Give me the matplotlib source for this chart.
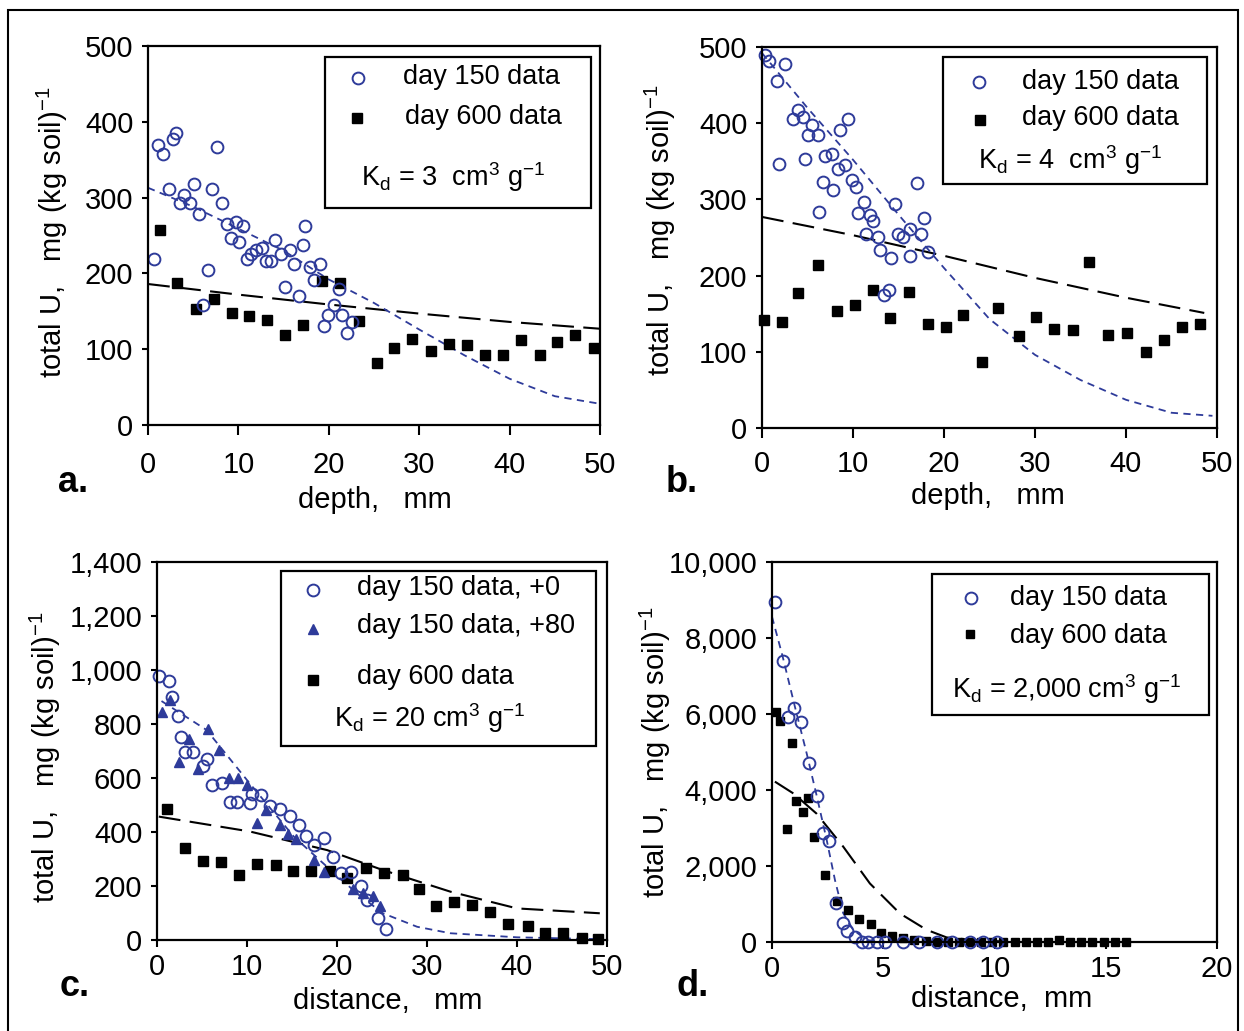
import matplotlib.pyplot as plt
from matplotlib.patches import Rectangle
from matplotlib.ticker import FuncFormatter, MultipleLocator

plt.rcParams['font.family'] = ['Liberation Sans', 'DejaVu Sans']
plt.rcParams['mathtext.fontset'] = 'custom'
plt.rcParams['mathtext.rm'] = 'Liberation Sans'
plt.rcParams['mathtext.it'] = 'Liberation Sans:italic'

W, H = 1244, 1031
BLUE = '#2e3b9a'

# ---- panel a: Kd = 3 ----
a_x150 = [0.7, 1.1, 1.7, 2.8, 3.1, 2.3, 4.0, 3.5, 4.6, 5.1, 5.6, 6.6, 6.1, 7.1, 7.6,
          8.2, 8.7, 9.7, 10.5, 9.2, 10.1, 10.9, 11.4, 11.9, 12.6, 13.0, 13.6, 14.1,
          14.7, 15.7, 16.2, 15.1, 16.7, 17.2, 17.4, 17.9, 19.0, 18.4, 19.5, 19.9,
          20.6, 21.1, 21.5, 22.6, 22.0]
a_y150 = [219, 370, 357, 377, 385, 311, 303, 293, 293, 318, 278, 204, 158, 311, 367,
          293, 265, 268, 262, 247, 242, 219, 225, 231, 234, 216, 216, 244,
          225, 231, 213, 182, 170, 238, 262, 209, 213, 191, 130, 145,
          158, 179, 145, 136, 121]
a_x600 = [1.3, 3.2, 5.3, 7.3, 9.3, 11.2, 13.2, 15.2, 17.2, 19.2, 21.2, 23.3, 25.3,
          27.2, 29.2, 31.3, 33.3, 35.3, 37.3, 39.3, 41.3, 43.4, 45.2, 47.2, 49.3]
a_y600 = [257, 187, 153, 166, 148, 144, 138, 119, 132, 190, 187, 137, 82,
          101, 113, 97, 107, 106, 92, 92, 112, 92, 110, 119, 101]
a_fit150_x = [0, 5, 10, 15, 20, 25, 30, 35, 40, 45, 50]
a_fit150_y = [313, 288, 259, 230, 192, 161, 126, 92, 61, 38, 28]
a_fit600_x = [0, 10, 20, 30, 40, 50]
a_fit600_y = [186, 172, 159, 147, 136, 127]

# ---- panel b: Kd = 4 ----
b_x150 = [0.3, 0.8, 2.5, 1.7, 1.9, 4.0, 3.4, 4.5, 5.5, 5.1, 6.1, 4.7, 8.6, 9.5,
          6.9, 7.7, 9.1, 8.3, 6.3, 6.7, 7.8, 9.9, 10.3, 11.2, 10.6, 11.9, 12.2,
          11.4, 12.7, 13.0, 14.2, 14.6, 14.9, 15.5, 16.3, 17.0, 17.5, 17.8, 16.3,
          18.2, 13.4, 14.0]
b_y150 = [490, 482, 478, 456, 346, 417, 406, 408, 398, 385, 384, 353, 391, 405,
          357, 360, 345, 340, 284, 323, 312, 325, 316, 297, 282, 280, 272,
          255, 251, 233, 223, 294, 255, 251, 261, 321, 254, 275, 226,
          231, 175, 181]
b_x600 = [0.2, 2.2, 4.0, 6.1, 8.2, 10.2, 12.2, 14.1, 16.2, 18.2, 20.2, 22.1, 24.2,
          25.9, 28.2, 30.1, 32.1, 34.2, 35.9, 38.0, 40.1, 42.2, 44.2, 46.2, 48.1]
b_y600 = [142, 139, 177, 214, 153, 161, 181, 144, 179, 137, 132, 148, 87,
          157, 121, 146, 130, 129, 218, 122, 125, 100, 115, 133, 137]
b_fit150_x = [0, 5, 10, 15, 20, 25, 30, 35, 40, 45, 49.5]
b_fit150_y = [492, 420, 352, 280, 210, 143, 96, 63, 37, 20, 16]
b_fit600_x = [0, 10, 20, 30, 40, 48.6]
b_fit600_y = [277, 253, 226, 197, 171, 151]

# ---- panel c: Kd = 20 ----
c_x150 = [0.2, 1.3, 1.7, 2.3, 2.7, 3.1, 4.0, 5.1, 5.6, 6.1, 7.2, 8.1, 8.9, 10.3,
          10.6, 11.6, 12.6, 13.7, 14.8, 15.8, 16.6, 17.4, 18.6, 19.6, 20.5,
          21.6, 22.7, 23.3, 24.6, 25.5]
c_y150 = [978, 961, 901, 831, 753, 696, 696, 643, 670, 574, 580, 512, 512, 506,
          540, 537, 496, 487, 461, 426, 386, 352, 377, 306, 247,
          253, 200, 148, 83, 40]
c_x80 = [0.6, 1.4, 2.5, 3.6, 4.6, 5.7, 6.9, 8.0, 9.0, 10.0, 11.1, 12.1, 13.7,
         14.6, 15.5, 17.5, 18.6, 21.8, 22.9, 24.0, 24.8]
c_y80 = [846, 889, 661, 744, 632, 780, 704, 599, 601, 574, 435, 481, 426,
         393, 373, 296, 253, 188, 173, 163, 126]
c_x600 = [1.1, 3.1, 5.1, 7.1, 9.1, 11.1, 13.2, 15.1, 17.1, 19.2, 21.1, 23.2, 25.2,
          27.3, 29.1, 31.0, 33.0, 35.0, 37.0, 39.0, 41.2, 43.1, 45.1, 47.2, 49.0]
c_y600 = [484, 342, 294, 290, 241, 283, 276, 256, 256, 257, 228, 265, 249,
          241, 188, 127, 139, 130, 105, 58, 53, 25, 25, 9, 3]
c_fit150_x = [0.5, 5.5, 10.3, 15.2, 18.9, 22.2, 25.1, 28.9, 32.6, 40, 49.2]
c_fit150_y = [885, 778, 580, 383, 271, 173, 99, 49, 25, 10, 3]
c_fit600_x = [0.2, 10.3, 18.9, 25.1, 32.6, 40, 49.2]
c_fit600_y = [457, 402, 333, 259, 179, 117, 99]

# ---- panel d: Kd = 2,000 ----
d_x150 = [0.13, 0.48, 0.73, 1.0, 1.3, 1.66, 2.0, 2.28, 2.58, 2.88, 3.18, 3.39,
          3.73, 4.03, 4.3, 4.7, 5.1, 5.9, 6.6, 7.4, 8.1, 8.9, 9.5, 10.1]
d_y150 = [8940, 7400, 5930, 6170, 5800, 4700, 3850, 2860, 2660, 1020, 490, 300,
          120, 0, 0, 0, 0, 0, 0, 0, 0, 0, 0, 0]
d_x600 = [0.17, 0.36, 0.88, 1.08, 1.38, 0.66, 1.63, 1.9, 2.37, 2.9, 3.4, 3.93,
          4.43, 4.88, 5.4, 5.9, 6.4, 6.9, 7.4, 7.9, 8.4, 8.9, 9.4, 9.9, 10.4,
          10.9, 11.4, 11.9, 12.4, 12.9, 13.4, 13.9, 14.4, 14.9, 15.4, 15.9]
d_y600 = [6040, 5820, 5250, 3720, 3410, 2970, 3780, 2760, 1760, 1090, 850, 610,
          470, 250, 170, 100, 50, 20, 10, 10, 10, 0, 0, 0, 0,
          0, 0, 0, 0, 50, 0, 0, 0, 0, 0, 0]
d_fit150_x = [0, 0.48, 1.03, 1.56, 2.0, 2.46, 2.83, 3.2, 3.65, 4.26, 5.15, 5.6]
d_fit150_y = [8560, 7510, 6190, 4960, 3870, 2680, 1630, 760, 320, 50, 0, 0]
d_fit600_x = [0.13, 0.96, 2.0, 3.2, 4.4, 5.75, 6.95, 7.85, 9.05, 10.5]
d_fit600_y = [4220, 3910, 3380, 2510, 1540, 750, 320, 120, 50, 10]

circle = dict(ls='none', marker='o', mfc='none', mec=BLUE, mew=1.4, ms=8.5)
square = dict(ls='none', marker='s', color='black', ms=7)
small_square = dict(square, ms=5.5)
triangle = dict(ls='none', marker='^', color=BLUE, ms=6.5)
fit150 = dict(color=BLUE, lw=1.3, ls=(0, (4, 3)))
fit600 = dict(color='black', lw=1.5, ls=(0, (10.5, 4.5)))

fig = plt.figure(figsize=(W / 100, H / 100), dpi=100)


def fx(x):
    return x / W


def fy(y):
    return 1 - y / H


def make_axes(box, xlim, ylim, xstep, ystep, xlen, xpad, comma=False):
    l, t, r, b = box
    ax = fig.add_axes([fx(l), fy(b), (r - l) / W, (b - t) / H])
    ax.set_xlim(*xlim)
    ax.set_ylim(*ylim)
    ax.xaxis.set_major_locator(MultipleLocator(xstep))
    ax.yaxis.set_major_locator(MultipleLocator(ystep))
    if comma:
        ax.yaxis.set_major_formatter(FuncFormatter(lambda v, p: f'{v:,.0f}'))
    for s in ax.spines.values():
        s.set_linewidth(1.6)
    ax.tick_params(axis='x', direction='out', length=xlen, width=1.5, pad=xpad, labelsize=21)
    ax.tick_params(axis='y', direction='out', length=4.5, width=1.5, pad=6, labelsize=21)
    return ax


def legend(ax, box, rect, rows, kd, kd_xy):
    l, t, r, b = box

    def tr(x, y):
        return (x - l) / (r - l), (b - y) / (b - t)

    x0, y0 = tr(rect[0], rect[3])
    x1, y1 = tr(rect[2], rect[1])
    ax.add_patch(Rectangle((x0, y0), x1 - x0, y1 - y0, fill=False, lw=1.6,
                           ec='black', transform=ax.transAxes, zorder=5))
    for style, mxy, label, txy in rows:
        ax.plot(*[[v] for v in tr(*mxy)], transform=ax.transAxes, clip_on=False,
                zorder=6, **style)
        ax.text(*tr(*txy), label, transform=ax.transAxes, fontsize=19.5,
                va='center', ha='left', zorder=6)
    ax.text(*tr(*kd_xy), kd, transform=ax.transAxes, fontsize=19.5,
            va='center', ha='left', zorder=6)


ylab = 'total U,   mg (kg soil)$^{-1}$'

# panel a
box_a = (148, 46, 600, 425)
ax = make_axes(box_a, (0, 50), (0, 500), 10, 100, 7, 12)
ax.plot(a_fit600_x, a_fit600_y, **fit600)
ax.plot(a_fit150_x, a_fit150_y, **fit150)
ax.plot(a_x600, a_y600, clip_on=False, **square)
ax.plot(a_x150, a_y150, clip_on=False, **circle)
legend(ax, box_a, (325, 57, 591, 208),
       [(circle, (358, 78), 'day 150 data', (403, 77)),
        (square, (357, 118), 'day 600 data', (405, 117))],
       'K$_\\mathrm{d}$ = 3  cm$^3$ g$^{-1}$', (361, 177))
fig.text(fx(52), fy(232), ylab, rotation=90, fontsize=21, ha='center', va='center')
fig.text(fx(375), fy(500), 'depth,   mm', fontsize=21, ha='center', va='center')
fig.text(fx(58), fy(483), 'a.', fontsize=26, fontweight='bold', ha='left', va='center')

# panel b
box_b = (762, 47, 1217, 428)
ax = make_axes(box_b, (0, 50), (0, 500), 10, 100, 7, 9)
ax.plot(b_fit600_x, b_fit600_y, **fit600)
ax.plot(b_fit150_x, b_fit150_y, **fit150)
ax.plot(b_x600, b_y600, clip_on=False, **square)
ax.plot(b_x150, b_y150, clip_on=False, **circle)
legend(ax, box_b, (943, 57, 1207, 184),
       [(circle, (979, 82), 'day 150 data', (1022, 82)),
        (square, (980, 120), 'day 600 data', (1022, 118))],
       'K$_\\mathrm{d}$ = 4  cm$^3$ g$^{-1}$', (978, 160))
fig.text(fx(660), fy(230), ylab, rotation=90, fontsize=21, ha='center', va='center')
fig.text(fx(988), fy(496), 'depth,   mm', fontsize=21, ha='center', va='center')
fig.text(fx(666), fy(483), 'b.', fontsize=26, fontweight='bold', ha='left', va='center')

# panel c
box_c = (157, 562, 607, 940)
ax = make_axes(box_c, (0, 50), (0, 1400), 10, 200, 5, 4.5, comma=True)
ax.plot(c_fit600_x, c_fit600_y, **fit600)
ax.plot(c_fit150_x, c_fit150_y, **fit150)
ax.plot(c_x600, c_y600, clip_on=False, **square)
ax.plot(c_x80, c_y80, clip_on=False, **triangle)
ax.plot(c_x150, c_y150, clip_on=False, **circle)
legend(ax, box_c, (281, 571, 596, 746),
       [(circle, (313, 590), 'day 150 data, +0', (357, 588)),
        (triangle, (313, 629), 'day 150 data, +80', (357, 626)),
        (square, (313, 680), 'day 600 data', (357, 677))],
       'K$_\\mathrm{d}$ = 20 cm$^3$ g$^{-1}$', (334, 718))
fig.text(fx(45), fy(757), ylab, rotation=90, fontsize=21, ha='center', va='center')
fig.text(fx(388), fy(1001), 'distance,   mm', fontsize=21, ha='center', va='center')
fig.text(fx(60), fy(987), 'c.', fontsize=26, fontweight='bold', ha='left', va='center')

# panel d
box_d = (772, 562, 1217, 942)
ax = make_axes(box_d, (0, 20), (0, 10000), 5, 2000, 5, 4.5, comma=True)
ax.plot(d_fit600_x, d_fit600_y, **fit600)
ax.plot(d_fit150_x, d_fit150_y, **fit150)
ax.plot(d_x600, d_y600, clip_on=False, **small_square)
ax.plot(d_x150, d_y150, clip_on=False, **circle)
legend(ax, box_d, (932, 574, 1209, 715),
       [(circle, (971, 598), 'day 150 data', (1010, 598)),
        (small_square, (970, 634), 'day 600 data', (1010, 636))],
       'K$_\\mathrm{d}$ = 2,000 cm$^3$ g$^{-1}$', (952, 689))
fig.text(fx(655), fy(752), ylab, rotation=90, fontsize=21, ha='center', va='center')
fig.text(fx(1002), fy(999), 'distance,  mm', fontsize=21, ha='center', va='center')
fig.text(fx(676), fy(987), 'd.', fontsize=26, fontweight='bold', ha='left', va='center')

# outer frame
fig.patches.append(Rectangle((fx(8), fy(1045)), (1238 - 8) / W, (1045 - 10) / H,
                             fill=False, lw=1.5, ec='black',
                             transform=fig.transFigure, figure=fig))

fig.savefig('out.png', dpi=100)
